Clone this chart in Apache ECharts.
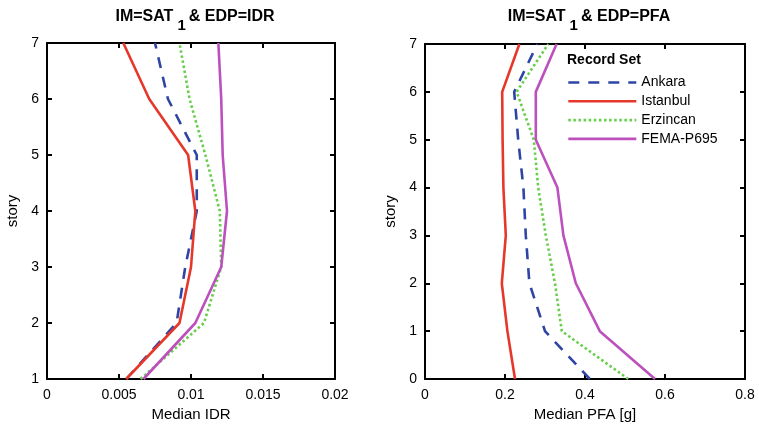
<!DOCTYPE html>
<html>
<head>
<meta charset="utf-8">
<script src="https://cdn.jsdelivr.net/npm/echarts@6/dist/echarts.min.js"></script>
<style>
html, body { margin: 0; padding: 0; background: #fff; }
#main { width: 759px; height: 435px; }
</style>
</head>
<body>
<div id="main"></div>
<script>
// story levels
var idrStories = [1, 2, 3, 4, 5, 6, 7];
var pfaStories = [0, 1, 2, 3, 4, 5, 6, 7];

// median IDR per story
var idrAnkara   = [0.0055, 0.0090, 0.0096, 0.0104, 0.0104, 0.0084, 0.0075];
var idrIstanbul = [0.0055, 0.0092, 0.0100, 0.0103, 0.0098, 0.0071, 0.0053];
var idrErzincan = [0.0065, 0.0109, 0.0121, 0.0120, 0.0110, 0.0099, 0.0092];
var idrFema     = [0.0067, 0.0103, 0.0121, 0.0125, 0.0122, 0.0121, 0.0119];

// median PFA [g] per floor
var pfaAnkara   = [0.412, 0.300, 0.261, 0.252, 0.246, 0.233, 0.223, 0.281];
var pfaIstanbul = [0.225, 0.206, 0.192, 0.202, 0.196, 0.194, 0.193, 0.236];
var pfaErzincan = [0.508, 0.342, 0.325, 0.302, 0.283, 0.272, 0.229, 0.308];
var pfaFema     = [0.575, 0.437, 0.377, 0.346, 0.331, 0.277, 0.277, 0.329];

var names = ['Ankara', 'Istanbul', 'Erzincan', 'FEMA-P695'];
var colors = ['#2E45A5', '#E6372B', '#66CF4A', '#BC50BD'];
var lineTypes = [[11, 9], 'solid', [2.5, 2.6], 'solid'];

function pairs(vals, stories) {
    return vals.map(function (v, i) { return [v, stories[i]]; });
}

var font = 'Liberation Sans, Arial, sans-serif';
var titleRich = {
    a: { fontFamily: 'Liberation Sans Narrow, Liberation Sans, Arial', fontSize: 16, fontWeight: 'bold', color: '#000', verticalAlign: 'top', lineHeight: 20 },
    s: { fontFamily: 'Liberation Sans Narrow, Liberation Sans, Arial', fontSize: 15, fontWeight: 'bold', color: '#000', verticalAlign: 'top', lineHeight: 20, padding: [9, 3, 0, 4] }
};

function mainX(grid, min, max, interval, name) {
    return {
        type: 'value', gridIndex: grid, min: min, max: max, interval: interval,
        name: name, nameLocation: 'middle', nameGap: 24,
        nameTextStyle: { fontFamily: font, fontSize: 15, color: '#000' },
        axisLine: { onZero: false, lineStyle: { color: '#000', width: 2 } },
        axisTick: { inside: true, length: 5, lineStyle: { color: '#000', width: 2 } },
        axisLabel: { fontFamily: font, fontSize: 14, color: '#000', margin: 9 },
        splitLine: { show: false }
    };
}
function mainY(grid, min, max) {
    return {
        type: 'value', gridIndex: grid, min: min, max: max, interval: 1,
        name: 'story', nameLocation: 'middle', nameGap: 27, nameRotate: 90,
        nameTextStyle: { fontFamily: font, fontSize: 15, color: '#000' },
        axisLine: { onZero: false, lineStyle: { color: '#000', width: 2 } },
        axisTick: { inside: true, length: 5, lineStyle: { color: '#000', width: 2 } },
        axisLabel: { fontFamily: font, fontSize: 14, color: '#000', margin: 8 },
        splitLine: { show: false }
    };
}
function mirrorX(grid, min, max, interval) {
    return {
        type: 'value', gridIndex: grid, position: 'top', min: min, max: max, interval: interval,
        axisLine: { onZero: false, lineStyle: { color: '#000', width: 2 } },
        axisTick: { inside: true, length: 5, lineStyle: { color: '#000', width: 2 } },
        axisLabel: { show: false }, splitLine: { show: false }
    };
}
function mirrorY(grid, min, max) {
    return {
        type: 'value', gridIndex: grid, position: 'right', min: min, max: max, interval: 1,
        axisLine: { onZero: false, lineStyle: { color: '#000', width: 2 } },
        axisTick: { inside: true, length: 5, lineStyle: { color: '#000', width: 2 } },
        axisLabel: { show: false }, splitLine: { show: false }
    };
}

var idrSets = [idrAnkara, idrIstanbul, idrErzincan, idrFema];
var pfaSets = [pfaAnkara, pfaIstanbul, pfaErzincan, pfaFema];
var series = [];
idrSets.forEach(function (vals, k) {
    series.push({
        name: names[k], type: 'line', xAxisIndex: 0, yAxisIndex: 0,
        data: pairs(vals, idrStories), symbol: 'none', animation: false,
        lineStyle: { color: colors[k], width: 2.6, type: lineTypes[k] },
        itemStyle: { color: colors[k] }
    });
});
pfaSets.forEach(function (vals, k) {
    series.push({
        name: names[k], type: 'line', xAxisIndex: 2, yAxisIndex: 2,
        data: pairs(vals, pfaStories), symbol: 'none', animation: false,
        lineStyle: { color: colors[k], width: 2.6, type: lineTypes[k] },
        itemStyle: { color: colors[k] }
    });
});

var dom = document.getElementById('main');
var myChart = echarts.init(dom);
var option = {
    backgroundColor: '#fff',
    animation: false,
    title: [
        { text: '{a|IM=SAT}{s|1}{a|& EDP=IDR}', left: 190, top: 4, textAlign: 'center', textStyle: { rich: titleRich } },
        { text: '{a|IM=SAT}{s|1}{a|& EDP=PFA}', left: 584, top: 4, textAlign: 'center', textStyle: { rich: titleRich } },
        { text: 'Record Set', left: 567, top: 53, padding: 0, textStyle: { fontFamily: font, fontSize: 14, fontWeight: 'bold', color: '#000' } }
    ],
    legend: {
        data: names, orient: 'vertical', left: 567, top: 75.5, padding: 0,
        itemWidth: 68, itemHeight: 14, itemGap: 4.8,
        itemStyle: { opacity: 0 },
        lineStyle: { width: 2.6 },
        textStyle: { fontFamily: font, fontSize: 14, color: '#000' }
    },
    grid: [
        { left: 47, top: 43, width: 288, height: 336 },
        { left: 425, top: 44, width: 320, height: 335 }
    ],
    xAxis: [
        mainX(0, 0, 0.02, 0.005, 'Median IDR'),
        mirrorX(0, 0, 0.02, 0.005),
        mainX(1, 0, 0.8, 0.2, 'Median PFA [g]'),
        mirrorX(1, 0, 0.8, 0.2)
    ],
    yAxis: [
        mainY(0, 1, 7),
        mirrorY(0, 1, 7),
        mainY(1, 0, 7),
        mirrorY(1, 0, 7)
    ],
    series: series
};
if (option && typeof option === "object") {
    myChart.setOption(option, true);
}
</script>
</body>
</html>
